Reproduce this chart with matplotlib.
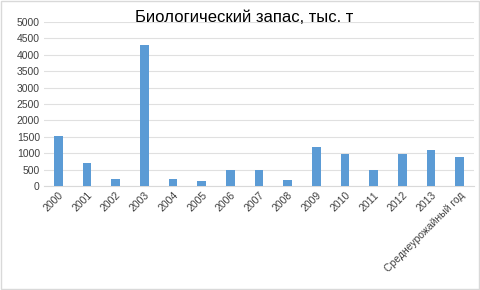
import matplotlib.pyplot as plt
from matplotlib.patches import Rectangle

categories = ['2000', '2001', '2002', '2003', '2004', '2005', '2006', '2007',
              '2008', '2009', '2010', '2011', '2012', '2013', 'Среднеурожайный год']
values = [1530, 690, 210, 4290, 210, 150, 478, 497, 193, 1190, 976, 497, 976, 1107, 884]
yticks = list(range(0, 5001, 500))

plt.rcParams['font.family'] = ['Liberation Sans', 'DejaVu Sans']

fig = plt.figure(figsize=(4.8, 2.9), dpi=100)
ax = fig.add_axes([44 / 480, 1 - 186 / 290, 430 / 480, 164 / 290])

x = range(len(categories))
ax.bar(x, values, width=0.31, color='#5B9BD5', zorder=3)
ax.set_xlim(-0.5, len(categories) - 0.5)
ax.set_ylim(0, 5000)
ax.set_yticks(yticks)
ax.set_yticklabels([str(t) for t in yticks], fontsize=7.5, color='#404040')
ax.set_xticks(list(x))
ax.set_xticklabels(categories, rotation=45, ha='right', rotation_mode='anchor',
                   fontsize=7.5, color='#404040')
ax.tick_params(length=0, pad=3)
ax.grid(axis='y', color='#E0E0E0', linewidth=0.8, zorder=0)
for s in ['top', 'right', 'left']:
    ax.spines[s].set_visible(False)
ax.spines['bottom'].set_color('#D9D9D9')

fig.text(244 / 480, 1 - 17 / 290, 'Биологический запас, тыс. т', ha='center', va='center',
         fontsize=12, color='#000000')
fig.patches.append(Rectangle((0.003, 0.003), 0.994, 0.994, transform=fig.transFigure,
                             fill=False, edgecolor='#D9D9D9', linewidth=1))

fig.savefig('out.png', dpi=100)
